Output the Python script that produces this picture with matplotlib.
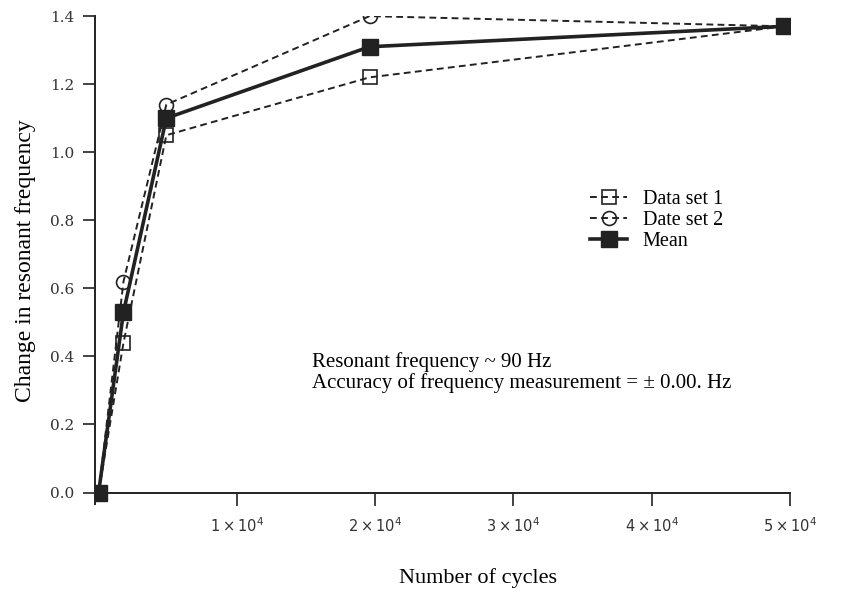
import matplotlib
matplotlib.use("Agg")
import matplotlib.pyplot as plt
from matplotlib.ticker import FixedLocator

# values
CYCLES    = [0, 1800, 4900, 19600, 49600]
DATA_SET1 = [0.0, 0.44, 1.05, 1.22, 1.37]
DATA_SET2 = [0.0, 0.62, 1.14, 1.40, 1.37]
MEAN      = [0.0, 0.53, 1.10, 1.31, 1.37]

X_TICKS       = [10000, 20000, 30000, 40000, 50000]
X_TICK_LABELS = [r"$1\times10^{4}$", r"$2\times10^{4}$", r"$3\times10^{4}$",
                 r"$4\times10^{4}$", r"$5\times10^{4}$"]
Y_TICKS       = [0.0, 0.2, 0.4, 0.6, 0.8, 1.0, 1.2, 1.4]

INK   = "#222222"
SERIF = "Liberation Serif"

fig = plt.figure(figsize=(8.65, 5.97), dpi=100, facecolor="white")
ax  = fig.add_axes([0.110, 0.155, 0.803, 0.818])

ax.plot(CYCLES, DATA_SET1, ls=(0, (3.5, 2.2)), lw=1.4, color=INK,
        marker="s", ms=10, mfc="none", mec=INK, mew=1.2, label="Data set 1", zorder=3)
ax.plot(CYCLES, DATA_SET2, ls=(0, (3.5, 2.2)), lw=1.4, color=INK,
        marker="o", ms=10, mfc="none", mec=INK, mew=1.2, label="Date set 2", zorder=3)
ax.plot(CYCLES, MEAN, ls="-", lw=2.6, color=INK,
        marker="s", ms=12, mfc=INK, mec=INK, label="Mean", zorder=4)

ax.set_xlim(-250, 50000)
ax.set_ylim(-0.035, 1.4)

for s in ["top", "right"]:
    ax.spines[s].set_visible(False)
ax.spines["bottom"].set_position(("data", 0))
ax.spines["left"].set_linewidth(1.4)
ax.spines["bottom"].set_linewidth(1.4)
ax.spines["left"].set_color(INK)
ax.spines["bottom"].set_color(INK)

ax.xaxis.set_major_locator(FixedLocator(X_TICKS))
ax.set_xticklabels(X_TICK_LABELS)
ax.set_yticks(Y_TICKS)
ax.set_yticklabels([f"{v:.1f}" for v in Y_TICKS], family="DejaVu Serif")
ax.tick_params(axis="both", direction="out", length=9, width=1.2, color=INK,
               labelcolor="#333333")
ax.tick_params(axis="x", pad=8, labelsize=10.5)
ax.tick_params(axis="y", pad=6, labelsize=11)

ax.set_ylabel("Change in resonant frequency", family=SERIF, fontsize=17, labelpad=10)
fig.text(0.553, 0.032, "Number of cycles", family=SERIF, fontsize=16,
         ha="center", va="center")

ax.text(0.312, 0.27, "Resonant frequency ~ 90 Hz\n"
        "Accuracy of frequency measurement = \u00b1 0.00. Hz",
        transform=ax.transAxes, family=SERIF, fontsize=15,
        ha="left", va="center", linespacing=1.12)

ax.legend(loc="upper left", bbox_to_anchor=(0.713, 0.645), frameon=False,
          prop={"family": SERIF, "size": 14.5}, handlelength=1.8,
          handletextpad=0.8, labelspacing=0.1, borderaxespad=0, borderpad=0)

fig.savefig("out.png", dpi=100, facecolor="white")
